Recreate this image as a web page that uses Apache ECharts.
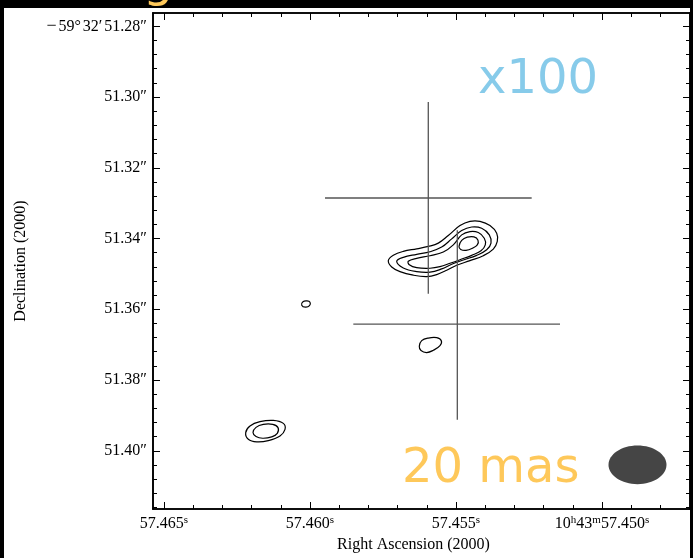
<!DOCTYPE html>
<html>
<head>
<meta charset="utf-8">
<script src="https://cdn.jsdelivr.net/npm/echarts@6/dist/echarts.min.js"></script>
<style>
html,body{margin:0;padding:0;background:#000;}
#chart{width:693px;height:558px;}
</style>
</head>
<body>
<div id="chart"></div>
<script>
// x = RA offset in ms of time west of 10h43m57.465s ; y = Dec offset in mas south of -59d32'51.28"
const xRange = [-0.377, 18.014];
const yRange = [-3.76, 136.46];
const xTickValues = [0, 5, 10, 15];
const xTickLabels = ['57.465s', '57.460s', '57.455s', '10h43m57.450s'];
const xMinorValues = [1, 2, 3, 4, 6, 7, 8, 9, 11, 12, 13, 14, 16, 17];
const yTickValues = [0, 20, 40, 60, 80, 100, 120];
const yTickLabels = ['\u221259\u00b032\u203251.28\u2033', '51.30\u2033', '51.32\u2033', '51.34\u2033', '51.36\u2033', '51.38\u2033', '51.40\u2033'];
const yMinorValues = [4, 8, 12, 16, 24, 28, 32, 36, 44, 48, 52, 56, 64, 68, 72, 76, 84, 88, 92, 96, 104, 108, 112, 116, 124, 128, 132, 136];

// contour levels (closed curves), points [x, y]
const contourOuter = [[7.682,66.26],[7.853,64.75],[8.195,63.63],[8.654,62.90],[9.051,62.23],[9.394,61.30],[9.736,59.14],[10.137,56.34],[10.479,55.13],[10.822,55.13],[11.164,56.34],[11.394,58.50],[11.414,60.83],[11.277,62.98],[10.935,64.86],[10.479,66.26],[10.024,67.55],[9.682,68.96],[9.339,70.19],[8.997,70.75],[8.538,70.36],[8.082,69.35],[7.798,68.03]];
const contourSecond = [[7.969,66.43],[8.195,65.31],[8.654,64.47],[9.110,63.74],[9.510,62.42],[9.853,60.10],[10.195,57.74],[10.538,56.73],[10.880,57.09],[11.140,58.97],[11.199,61.30],[11.051,63.18],[10.709,64.75],[10.250,66.07],[9.853,67.27],[9.510,68.59],[9.110,69.52],[8.654,69.35],[8.195,68.31]];
const contourThird = [[8.366,66.43],[8.654,65.59],[9.110,64.86],[9.565,63.82],[9.908,61.78],[10.195,58.97],[10.479,58.02],[10.764,58.30],[10.969,59.90],[11.003,61.78],[10.856,63.46],[10.538,64.75],[10.137,65.98],[9.795,66.99],[9.452,67.95],[9.110,68.40],[8.654,68.23],[8.401,67.39]];
const contourPeak = [[10.103,62.23],[10.195,60.54],[10.387,59.62],[10.616,59.53],[10.753,60.46],[10.729,61.78],[10.572,62.70],[10.342,63.35],[10.161,63.07]];
const contourSmallA = [[4.716,78.83],[4.760,77.85],[4.897,77.65],[5.000,77.99],[4.983,78.97],[4.846,79.39]];
const contourSmallB = [[8.743,90.47],[8.825,88.87],[9.051,88.14],[9.339,88.03],[9.497,88.87],[9.452,90.27],[9.223,91.59],[8.997,92.23],[8.801,91.67]];
const contourSWOuter = [[2.798,114.86],[2.945,112.98],[3.288,111.78],[3.743,111.41],[4.086,112.25],[4.144,113.94],[3.973,115.79],[3.572,117.11],[3.175,117.47],[2.887,116.74]];
const contourSWInner = [[3.048,114.86],[3.151,113.38],[3.401,112.54],[3.723,112.54],[3.904,113.46],[3.880,115.06],[3.688,116.07],[3.380,116.46],[3.151,115.98]];

// positions with error bars
const crossRa = [9.051, 10.045];
const crossDec = [48.54, 84.21];
const crossRaLo = [5.514, 6.483];
const crossRaHi = [12.592, 13.562];
const crossDecLo = [21.42, 57.66];
const crossDecHi = [75.60, 111.21];

// restoring beam
const beamRa = [16.216];
const beamDec = [123.98];
const beamWidth = [1.986];
const beamHeight = [10.94];

const contours = [contourOuter, contourSecond, contourThird, contourPeak, contourSmallA, contourSmallB, contourSWOuter, contourSWInner];

const chart = echarts.init(document.getElementById('chart'), null, {renderer: 'canvas'});

const serif = 'Liberation Serif';
function xLabelFormatter(v) {
  const i = xTickValues.indexOf(v);
  if (i < 0) return '';
  const s = xTickLabels[i];
  return s.replace(/([0-9.]+)([hms])/g, '{a|$1}{sup|$2}');
}
function yLabelFormatter(v) {
  const i = yTickValues.indexOf(v);
  if (i < 0) return '';
  const s = yTickLabels[i];
  const m = s.match(/^(\u2212)(\d+\u00b0)(\d+\u2032)(.*)$/);
  if (m) {
    return '{sg|' + m[1] + '}{dg|' + m[2] + '}{mn|' + m[3] + '}{sc|' + m[4] + '}';
  }
  return '{sc|' + s + '}';
}

function xAxis(pos, ticks, len, labels) {
  return {
    type: 'value', position: pos, min: xRange[0], max: xRange[1], gridIndex: 0,
    axisLine: {show: true, onZero: false, lineStyle: {color: '#000', width: 1.6}},
    axisTick: {show: true, inside: true, length: len, customValues: ticks, lineStyle: {color: '#000', width: 1}},
    axisLabel: labels ? {
      show: true, customValues: xTickValues, margin: 6, formatter: xLabelFormatter,
      rich: {
        a: {fontFamily: serif, fontSize: 16, color: '#000'},
        sup: {fontFamily: serif, fontSize: 11, color: '#000', padding: [0, 0, 7, 0]}
      }
    } : {show: false},
    splitLine: {show: false},
    name: labels ? 'Right Ascension (2000)' : '',
    nameLocation: 'middle', nameGap: 28,
    nameTextStyle: {fontFamily: serif, fontSize: 16, color: '#000', padding: [0, 16, 0, 0]}
  };
}
function yAxis(pos, ticks, len, labels) {
  const txt = {fontFamily: serif, fontSize: 16, color: '#000'};
  return {
    type: 'value', position: pos, min: yRange[0], max: yRange[1], inverse: true, gridIndex: 0,
    axisLine: {show: true, onZero: false, lineStyle: {color: '#000', width: 1.6}},
    axisTick: {show: true, inside: true, length: len, customValues: ticks, lineStyle: {color: '#000', width: 1}},
    axisLabel: labels ? {
      show: true, customValues: yTickValues, margin: 6, formatter: yLabelFormatter,
      fontFamily: serif, fontSize: 16, color: '#000',
      rich: {
        sg: {fontFamily: serif, fontSize: 18, color: '#000', width: 12, align: 'left'},
        dg: Object.assign({padding: [0, 2, 0, 0]}, txt),
        mn: Object.assign({padding: [0, 2, 0, 0]}, txt),
        sc: Object.assign({}, txt)
      }
    } : {show: false},
    splitLine: {show: false},
    name: labels ? 'Declination (2000)' : '',
    nameLocation: 'middle', nameGap: 124, nameRotate: 90,
    nameTextStyle: {fontFamily: serif, fontSize: 16, color: '#000'}
  };
}

const series = [];
series.push({
  type: 'custom', xAxisIndex: 0, yAxisIndex: 0, silent: true,
  data: contours.map((c, i) => [c[0][0], c[0][1], i]),
  renderItem: function (params, api) {
    const c = contours[params.dataIndex];
    const pts = c.map(p => api.coord(p));
    return {
      type: 'polygon',
      shape: {points: pts, smooth: 0.4},
      style: {fill: null, stroke: '#000', lineWidth: 1.2}
    };
  }
});
crossRa.forEach((ra, i) => {
  series.push({
    type: 'line', xAxisIndex: 0, yAxisIndex: 0, symbol: 'none', silent: true,
    data: [[crossRaLo[i], crossDec[i]], [crossRaHi[i], crossDec[i]]],
    lineStyle: {color: '#555', width: 1.3}
  });
  series.push({
    type: 'line', xAxisIndex: 0, yAxisIndex: 0, symbol: 'none', silent: true,
    data: [[ra, crossDecLo[i]], [ra, crossDecHi[i]]],
    lineStyle: {color: '#555', width: 1.3}
  });
});
series.push({
  type: 'custom', xAxisIndex: 0, yAxisIndex: 0, silent: true,
  data: beamRa.map((r, i) => [r, beamDec[i], beamWidth[i], beamHeight[i]]),
  renderItem: function (params, api) {
    const c = api.coord([api.value(0), api.value(1)]);
    const s = api.size([api.value(2), api.value(3)]);
    return {
      type: 'ellipse',
      shape: {cx: c[0], cy: c[1], rx: Math.abs(s[0]) / 2, ry: Math.abs(s[1]) / 2},
      style: {fill: '#454545', stroke: null}
    };
  }
});

chart.setOption({
  animation: false,
  backgroundColor: '#000',
  grid: {left: 153, right: 3, top: 13, bottom: 45, containLabel: false},
  xAxis: [
    xAxis('bottom', xTickValues, 7, true),
    xAxis('bottom', xMinorValues, 4, false),
    xAxis('top', xTickValues, 7, false),
    xAxis('top', xMinorValues, 4, false)
  ],
  yAxis: [
    yAxis('left', yTickValues, 7, true),
    yAxis('left', yMinorValues, 4, false),
    yAxis('right', yTickValues, 7, false),
    yAxis('right', yMinorValues, 4, false)
  ],
  graphic: [
    {type: 'rect', z: -10, silent: true, shape: {x: 4, y: 8, width: 686, height: 550}, style: {fill: '#fff'}},
    {type: 'text', z: 100, left: 478, top: 57, style: {text: 'x100', fontFamily: 'DejaVu Sans', fontSize: 48, fill: '#87CBEA'}},
    {type: 'text', z: 100, left: 402, top: 446, style: {text: '20 mas', fontFamily: 'DejaVu Sans', fontSize: 48, fill: '#FEC85A'}},
    {type: 'text', z: 100, left: 143, top: -40, style: {text: 'g', fontFamily: 'DejaVu Sans', fontSize: 48, fill: '#FEC85A'}}
  ],
  series: series
});
</script>
</body>
</html>
